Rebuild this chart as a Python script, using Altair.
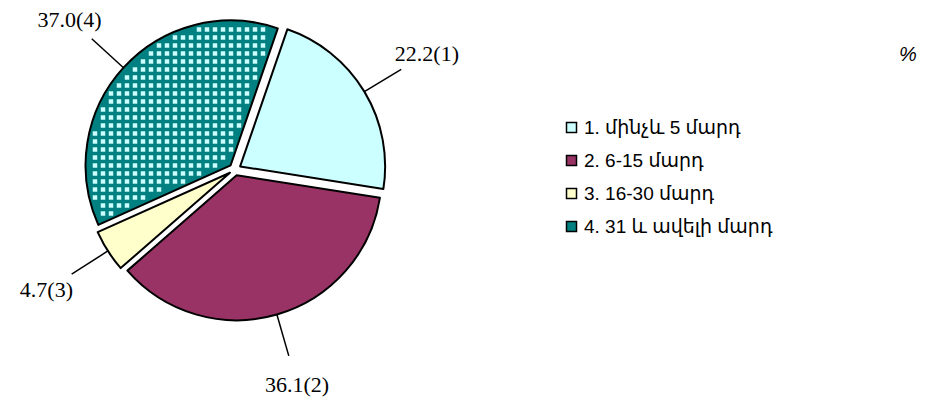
import math
import altair as alt
import pandas as pd

# ---- data ----
categories = ["1. մինչև 5 մարդ", "2. 6-15 մարդ", "3. 16-30 մարդ", "4. 31 և ավելի մարդ"]
values = [22.2, 36.1, 4.7, 37.0]
labels = ["22.2(1)", "36.1(2)", "4.7(3)", "37.0(4)"]
colors = ["#CCFFFF", "#993366", "#FFFFCC", "#008080"]

# ---- layout ----
W, H = 909, 393
CX, CY = 227.0, 161.5
R = 145
EXPLODE = 6
START = math.radians(19)
LEADER_R = 194
LABEL_R = 224
LABEL_MIN_Y = 12

total = sum(values)
rows = []
cum = 0.0
for i, (c, v, l) in enumerate(zip(categories, values, labels)):
    t0 = cum
    cum += v
    t1 = cum
    a0 = START + 2 * math.pi * t0 / total
    a1 = START + 2 * math.pi * t1 / total
    mid = (a0 + a1) / 2
    sx, sy = math.sin(mid), -math.cos(mid)
    ox, oy = CX + EXPLODE * sx, CY + EXPLODE * sy
    rows.append(dict(idx=i, category=c, value=v, label=l, t0=t0, t1=t1,
                     cx=ox, cy=oy,
                     x0=ox + R * sx, y0=oy + R * sy,
                     x1=CX + LEADER_R * sx, y1=CY + LEADER_R * sy,
                     lx=CX + LABEL_R * sx,
                     ly=max(CY + LABEL_R * sy, LABEL_MIN_Y)))
df = pd.DataFrame(rows)

theta_scale = alt.Scale(domain=[0, total], range=[START, START + 2 * math.pi])

arcs = alt.Chart(df).mark_arc(radius=R, stroke="black", strokeWidth=2,
                              strokeJoin="round").encode(
    theta=alt.Theta("t0:Q", scale=theta_scale),
    theta2=alt.Theta2("t1"),
    x=alt.X("cx:Q", scale=None, axis=None),
    y=alt.Y("cy:Q", scale=None, axis=None),
    color=alt.Color("category:N",
                    scale=alt.Scale(domain=categories, range=colors),
                    legend=alt.Legend(title=None, orient="none",
                                      legendX=554, legendY=110,
                                      symbolType="square", symbolSize=100,
                                      symbolStrokeColor="black",
                                      symbolStrokeWidth=1.5,
                                      symbolOpacity=1,
                                      labelFont="Liberation Sans, DejaVu Sans",
                                      labelFontSize=19, labelColor="black",
                                      labelOffset=3, rowPadding=13,
                                      labelLimit=400)),
)

# ---- texture for slice 4 (light squares between teal dots) ----
s4 = df.iloc[3]
a0_4 = START + 2 * math.pi * s4.t0 / total
span4 = 2 * math.pi * s4.value / total
N = 46
P = 8
grid = alt.Chart(alt.sequence(0, N * N, as_="i")).transform_calculate(
    gx=f"{CX} + (floor(datum.i / {N}) - {N // 2}) * {P} + 4",
    gy=f"{CY} + ((datum.i % {N}) - {N // 2}) * {P} + 4",
).transform_calculate(
    dx=f"datum.gx - {s4.cx}",
    dy=f"datum.gy - {s4.cy}",
).transform_calculate(
    r="sqrt(datum.dx*datum.dx + datum.dy*datum.dy)",
    rel=f"((atan2(datum.dx, -datum.dy) - {a0_4}) % (2*PI) + 2*PI) % (2*PI)",
).transform_filter(
    f"datum.r < {R - 4.5} && datum.rel < {span4} && "
    f"datum.r * sin(min(datum.rel, PI/2)) > 4.5 && "
    f"datum.r * sin(min({span4} - datum.rel, PI/2)) > 4.5"
).mark_square(size=20, fill="#CCFFFF", opacity=1, strokeWidth=0).encode(
    x=alt.X("gx:Q", scale=None, axis=None),
    y=alt.Y("gy:Q", scale=None, axis=None),
)

leaders = alt.Chart(df).mark_rule(color="black", strokeWidth=1.5).encode(
    x=alt.X("x0:Q", scale=None, axis=None),
    y=alt.Y("y0:Q", scale=None, axis=None),
    x2="x1:Q", y2="y1:Q",
)

texts = alt.Chart(df).mark_text(font="Liberation Serif", fontSize=22,
                                align="center", baseline="middle",
                                color="black").encode(
    x=alt.X("lx:Q", scale=None, axis=None),
    y=alt.Y("ly:Q", scale=None, axis=None),
    text="label:N",
)

pct = alt.Chart(pd.DataFrame({"t": ["%"]})).mark_text(
    font="Liberation Sans", fontSize=20, fontStyle="italic",
    align="center", baseline="middle", color="black").encode(
    x=alt.value(900), y=alt.value(47), text="t:N")

chart = alt.layer(arcs, grid, leaders, texts, pct).properties(
    width=W, height=H, padding=0,
    autosize=alt.AutoSizeParams(type="none"),
    background="white",
).configure_view(stroke=None)

chart.save("out.html", embed_options={"renderer": "svg", "actions": False})
